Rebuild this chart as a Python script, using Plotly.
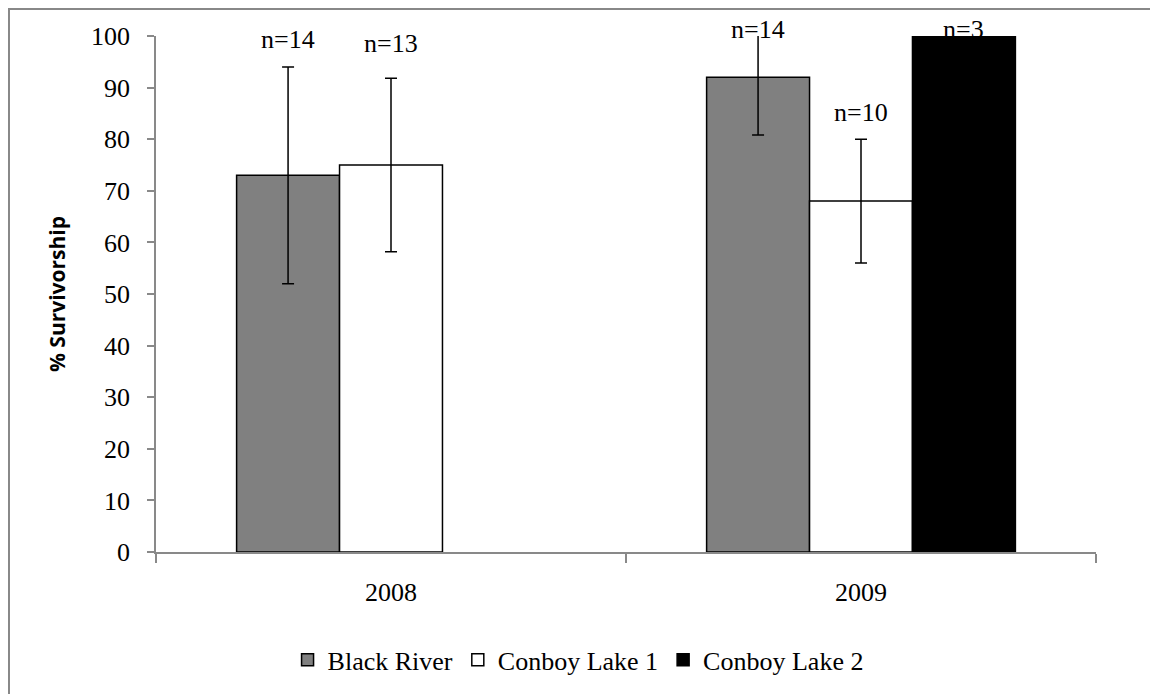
import plotly.graph_objects as go

categories = ["2008", "2009"]
series_names = ["Black River", "Conboy Lake 1", "Conboy Lake 2"]
black_river = [73, 92]
black_river_err = [21, 11.2]
conboy1 = [75, 68]
conboy1_err = [16.8, 12]
conboy2 = [None, 100]
conboy2_err = [None, 0]
n_labels = [["n=14", "n=14"], ["n=13", "n=10"], [None, "n=3"]]
n_label_y = [[99.4, 101.2], [98.6, 85.2], [None, 101.2]]
y_ticks = [0, 10, 20, 30, 40, 50, 60, 70, 80, 90, 100]
Y_MAX = 100

colors = ["#808080", "#ffffff", "#000000"]
values = [black_river, conboy1, conboy2]
errors = [black_river_err, conboy1_err, conboy2_err]

SERIF = "Liberation Serif, Times New Roman, serif"
FS = 26
BARGAP = 0.343

fig = go.Figure()
for name, vals, errs, col in zip(series_names, values, errors, colors):
    fig.add_trace(go.Bar(
        name=name, x=categories, y=vals,
        marker=dict(color=col, line=dict(color="#000000", width=1.5)),
        error_y=dict(type="data", array=errs, visible=True, color="#000000",
                     thickness=1.5, width=6),
    ))

# n labels above each bar, placed at the grouped bar slot positions
annotations = []
nser = len(series_names)
slot = (1 - BARGAP) / nser
for si in range(nser):
    for ci in range(len(categories)):
        txt = n_labels[si][ci]
        if txt is None:
            continue
        annotations.append(dict(
            x=ci + (si - (nser - 1) / 2) * slot, y=n_label_y[si][ci] / Y_MAX,
            xref="x", yref="paper", text=txt, showarrow=False,
            font=dict(family=SERIF, size=FS, color="#000000"),
            yanchor="middle", xanchor="center"))

# page body has an 8px margin, so margins are reduced by 8 to keep the plot in place
fig.update_layout(
    width=1158, height=694,
    margin=dict(l=148, r=70, t=28, b=150),
    paper_bgcolor="#ffffff", plot_bgcolor="#ffffff",
    barmode="group", bargap=BARGAP, bargroupgap=0,
    showlegend=True,
    legend=dict(orientation="h", x=0.449, xanchor="center", y=-0.209, yanchor="middle",
                font=dict(family=SERIF, size=FS, color="#000000"),
                traceorder="normal", itemwidth=30),
    annotations=annotations,
    shapes=[dict(type="rect", xref="paper", yref="paper",
                 x0=-0.1564, x1=1.1, y0=-0.3, y1=1.0523,
                 line=dict(color="#888888", width=2), fillcolor="rgba(0,0,0,0)",
                 layer="below")],
)

fig.update_xaxes(
    type="category", range=[-0.5, 1.5],
    showline=True, linecolor="#898989", linewidth=1.5,
    ticks="outside", tickson="boundaries", ticklen=9, tickcolor="#898989", tickwidth=1.5,
    tickfont=dict(family=SERIF, size=FS, color="#000000"),
    ticklabelstandoff=16,
    showgrid=False, zeroline=False,
)
fig.update_yaxes(
    range=[0, Y_MAX], tickvals=y_ticks,
    showline=True, linecolor="#898989", linewidth=1.5,
    ticks="outside", ticklen=7, tickcolor="#898989", tickwidth=1.5,
    tickfont=dict(family=SERIF, size=FS, color="#000000"),
    ticklabelstandoff=12,
    showgrid=False, zeroline=False,
    title=dict(text="<b>% Survivorship</b>", standoff=20,
               font=dict(family="Open Sans, Liberation Sans, sans-serif", size=21, color="#000000")),
)

fig.write_html("out.html")
